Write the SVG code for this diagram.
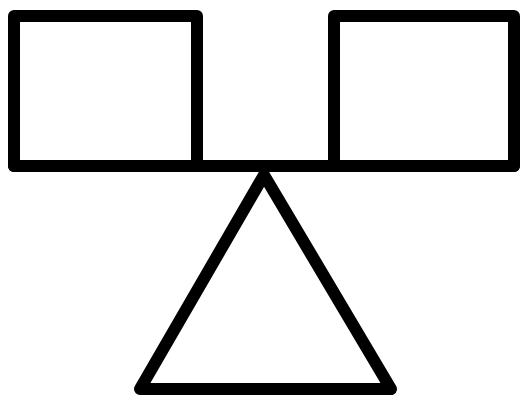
<svg xmlns="http://www.w3.org/2000/svg" width="520" height="396" viewBox="0 0 520 396">
<style>
.s{fill:none;stroke:#000;stroke-width:12;stroke-linejoin:round;stroke-linecap:round}
</style>
<rect width="520" height="396" fill="#fff"/>
<g id="left-square"><rect class="s" x="14" y="16" width="183" height="150"/></g>
<g id="right-square"><rect class="s" x="334" y="16" width="180" height="150"/></g>
<g id="triangle"><polygon class="s" points="264,175 391,389 140,389"/></g>
<g id="connectors"><line class="s" x1="14" y1="166" x2="514" y2="166"/></g>
</svg>
